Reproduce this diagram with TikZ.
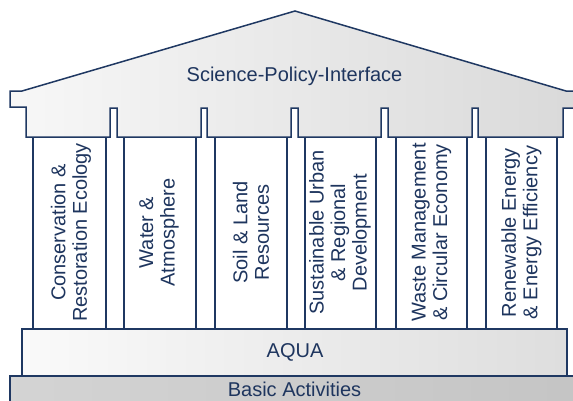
\documentclass[tikz,border=0pt]{standalone}
\usepackage{fontspec}
\setmainfont{Liberation Sans}
\begin{document}
\begin{tikzpicture}[x=1pt,y=-1pt,
  navyline/.style={draw=navy,line width=1.5pt,line join=miter},
  lbl/.style={text=navytext,font=\fontsize{20}{21.5}\selectfont,inner sep=0pt,align=center},
  pillar/.style={navyline,fill=white}]
\definecolor{navy}{HTML}{1F3862}
\definecolor{navytext}{HTML}{1E355E}
\useasboundingbox (0,0) rectangle (573,400);
\clip (0,0) rectangle (573,400);
% Basic activities
\path[navyline,left color=black!17,right color=black!23] (10,376) rectangle (590,412);
% AQUA
\path[navyline,left color=black!2,right color=black!13] (22,329) rectangle (567,376);
% pillars
\foreach \a/\b in {33/106,124/196,215/287,305/376,396/467,486/557}{
  \path[pillar] (\a,137) rectangle (\b,329);
}
% roof
\path[navyline,left color=black!3,right color=black!15]
  (10,91) -- (22,91) -- (295,11) -- (566,91) -- (590,91) -- (590,108) -- (563,108) -- (563,137)
  -- (478,137) -- (478,108) -- (472,108) -- (472,137)
  -- (388,137) -- (388,108) -- (381,108) -- (381,137)
  -- (298,137) -- (298,108) -- (291,108) -- (291,137)
  -- (207,137) -- (207,108) -- (201,108) -- (201,137)
  -- (117,137) -- (117,108) -- (110,108) -- (110,137)
  -- (26,137) -- (26,107) -- (10,107) -- cycle;
% labels
\node[lbl] (spi) at (294.5,76) {Science-Policy-Interface};
\node[lbl] (aqua) at (295,352) {AQUA};
\node[lbl] (basic) at (294.5,389) {Basic Activities};
\node[lbl,rotate=90] (p1) at (71,232.5) {Conservation \&\\Restoration Ecology};
\node[lbl,rotate=90] (p2) at (159,232.5) {Water \&\\Atmosphere};
\node[lbl,rotate=90] (p3) at (251,232.5) {Soil \& Land\\Resources};
\node[lbl,rotate=90] (p4) at (340,232.5) {Sustainable Urban\\\& Regional\\Development};
\node[lbl,rotate=90] (p5) at (431.5,232.5) {Waste Management\\\& Circular Economy};
\node[lbl,rotate=90] (p6) at (521.5,232.5) {Renewable Energy\\\& Energy Efficiency};
\end{tikzpicture}
\end{document}
